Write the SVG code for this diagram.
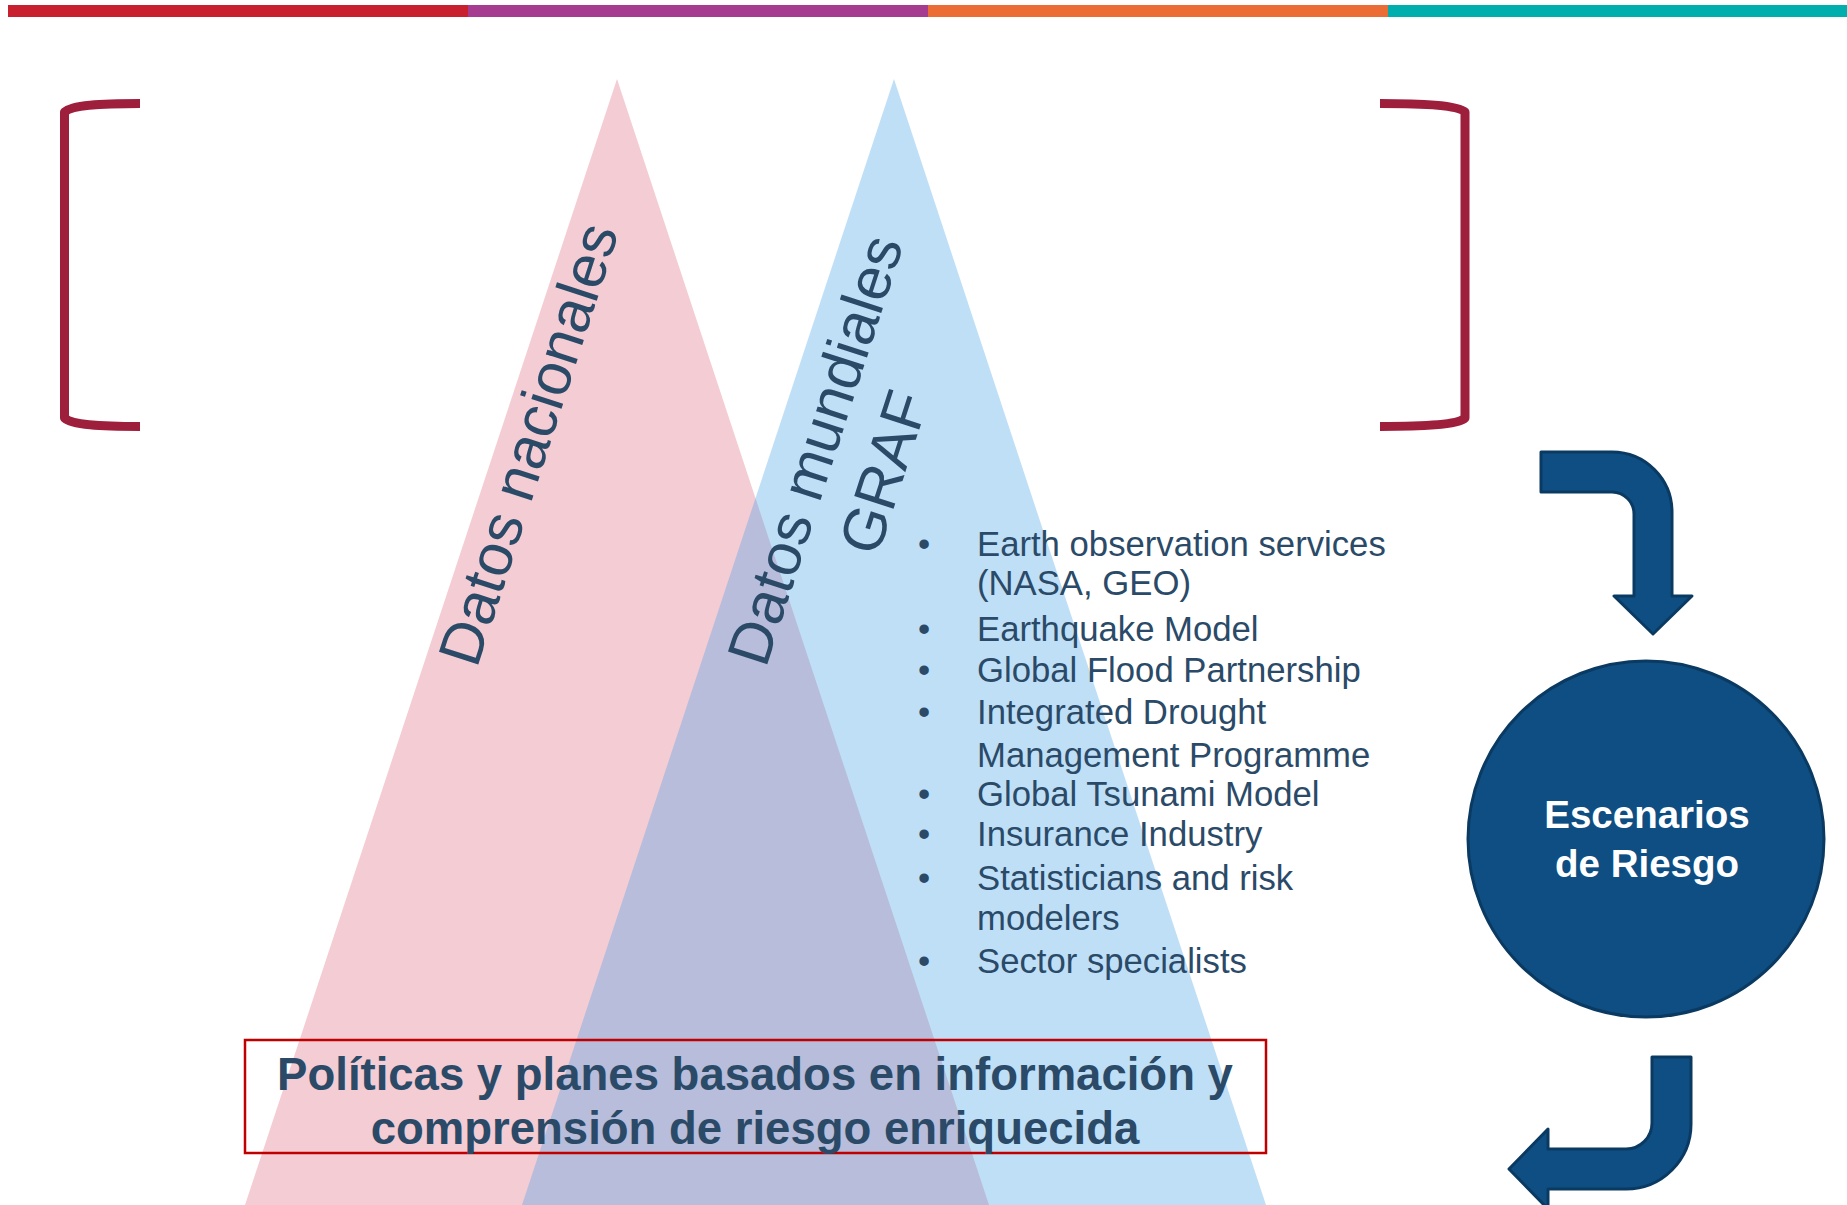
<svg xmlns="http://www.w3.org/2000/svg" width="1847" height="1205" viewBox="0 0 1847 1205">
<style>
  .lbl { font-family: "Liberation Sans", Arial, sans-serif; fill: #2A4A68; }
  .rot { font-size: 60px; text-anchor: middle; }
  .item { font-size: 34.7px; }
  .bracket { fill: none; stroke: #9E1F3C; stroke-width: 9; stroke-linecap: butt; stroke-linejoin: round; }
  .arrow { fill: #0F4E82; stroke: #0A3A62; stroke-width: 3; stroke-linejoin: round; }
  .circle { fill: #0F4E82; stroke: #0A3A62; stroke-width: 3; }
  .ctext { font-family: "Liberation Sans", Arial, sans-serif; font-weight: bold; font-size: 38.5px; fill: #FFFFFF; text-anchor: middle; }
  .btext { font-family: "Liberation Sans", Arial, sans-serif; font-weight: bold; font-size: 45.5px; fill: #2A4A68; text-anchor: middle; }
</style>
<rect width="1847" height="1205" fill="#FFFFFF"/>
<g id="topbar">
  <rect x="8" y="5" width="460" height="12" fill="#C8202F"/>
  <rect x="468" y="5" width="460" height="12" fill="#A63C8F"/>
  <rect x="928" y="5" width="460" height="12" fill="#EC6C36"/>
  <rect x="1388" y="5" width="459" height="12" fill="#00AEAE"/>
</g>
<g id="brackets">
  <path class="bracket" d="M140,103.5 C100,103.5 72,105 64.5,112 L64.5,418 C72,425 100,426.5 140,426.5"/>
  <path class="bracket" d="M1380,103.5 C1420,103.5 1458,105 1465,112 L1465,418 C1458,425 1420,426.5 1380,426.5"/>
</g>
<g id="triangle-nacionales">
  <polygon points="617,79 245,1205 989,1205" fill="#F4CCD4"/>
</g>
<g id="triangle-mundiales">
  <polygon points="894,79 522,1205 1266,1205" fill="#3C9FE7" fill-opacity="0.33"/>
</g>
<g id="label-nacionales">
  <text class="lbl rot" transform="translate(528,444) rotate(-72)" x="0" y="21">Datos nacionales</text>
</g>
<g id="label-mundiales">
  <text class="lbl rot" transform="translate(849,461) rotate(-72)" x="0" y="-15">Datos mundiales</text>
  <text class="lbl rot" transform="translate(849,461) rotate(-72)" x="0" y="57">GRAF</text>
</g>
<g id="list">
  <text class="lbl item" x="918" y="556">•</text>
  <text class="lbl item" x="977" y="556">Earth observation services</text>
  <text class="lbl item" x="977" y="595">(NASA, GEO)</text>
  <text class="lbl item" x="918" y="641">•</text>
  <text class="lbl item" x="977" y="641">Earthquake Model</text>
  <text class="lbl item" x="918" y="682">•</text>
  <text class="lbl item" x="977" y="682">Global Flood Partnership</text>
  <text class="lbl item" x="918" y="724">•</text>
  <text class="lbl item" x="977" y="724">Integrated Drought</text>
  <text class="lbl item" x="977" y="767">Management Programme</text>
  <text class="lbl item" x="918" y="806">•</text>
  <text class="lbl item" x="977" y="806">Global Tsunami Model</text>
  <text class="lbl item" x="918" y="846">•</text>
  <text class="lbl item" x="977" y="846">Insurance Industry</text>
  <text class="lbl item" x="918" y="890">•</text>
  <text class="lbl item" x="977" y="890">Statisticians and risk</text>
  <text class="lbl item" x="977" y="930">modelers</text>
  <text class="lbl item" x="918" y="973">•</text>
  <text class="lbl item" x="977" y="973">Sector specialists</text>
</g>
<g id="politicas">
  <rect x="245" y="1040" width="1021" height="113" fill="none" stroke="#C00000" stroke-width="2.5"/>
  <text class="btext" x="755" y="1090">Políticas y planes basados en información y</text>
  <text class="btext" x="755" y="1144">comprensión de riesgo enriquecida</text>
</g>
<g id="escenarios">
  <circle class="circle" cx="1646" cy="839" r="178"/>
  <text class="ctext" x="1647" y="828">Escenarios</text>
  <text class="ctext" x="1647" y="877">de Riesgo</text>
</g>
<g id="connectors">
  <path class="arrow" d="M1541,452 L1612,452 A60,60 0 0 1 1672,512 L1672,596 L1692,596 L1653,634 L1614,596 L1634,596 L1634,514 A22,22 0 0 0 1612,492 L1541,492 Z"/>
  <path class="arrow" d="M1691,1057 L1691,1124 A65,65 0 0 1 1626,1189 L1548,1189 L1548,1209 L1509,1169 L1548,1129 L1548,1149 L1626,1149 A26,26 0 0 0 1652,1123 L1652,1057 Z"/>
</g>
</svg>
